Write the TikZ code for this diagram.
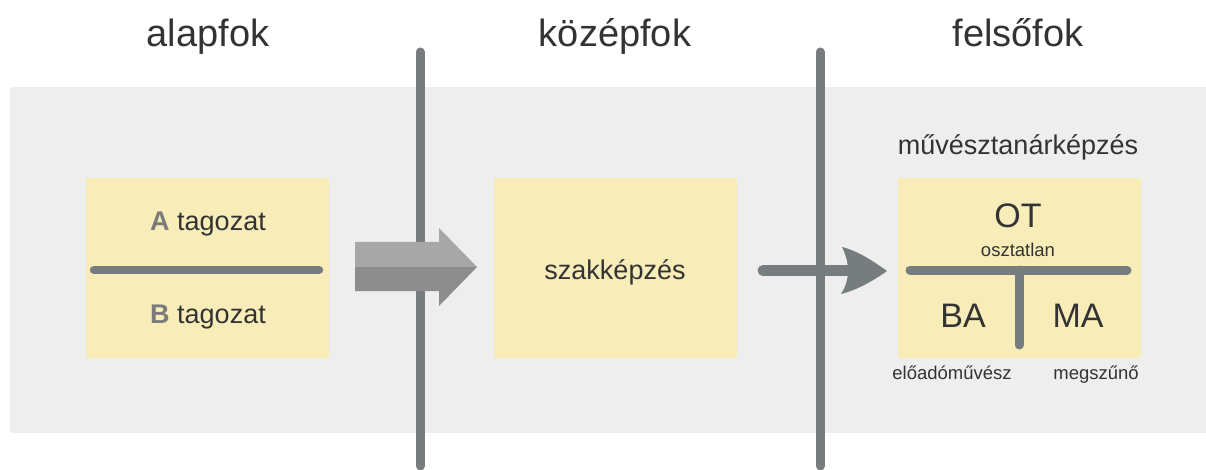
\documentclass[tikz,border=0pt]{standalone}
\usepackage{fontspec}
\setmainfont{Liberation Sans}
\definecolor{bgpanel}{HTML}{EEEEEE}
\definecolor{boxfill}{HTML}{F8EDB9}
\definecolor{bar}{HTML}{777C7E}
\definecolor{txt}{HTML}{333333}
\definecolor{lgray}{HTML}{A7A7A7}
\definecolor{dgray}{HTML}{8D8D8D}
\definecolor{letter}{HTML}{7B7B7B}
\begin{document}
\begin{tikzpicture}[x=1pt,y=-1pt,
  panel/.style={fill=boxfill, minimum width=243, minimum height=180, inner sep=0, anchor=north west},
  divider/.style={draw=bar, line width=8.5, line cap=round},
  phase/.style={font=\fontsize{38}{40}\selectfont, text=txt, anchor=base, inner sep=0},
  label/.style={font=\fontsize{27}{30}\selectfont, text=txt, anchor=base, inner sep=0},
  big/.style={font=\fontsize{34}{36}\selectfont, text=txt, anchor=base, inner sep=0},
  small/.style={font=\fontsize{18.5}{20}\selectfont, text=txt, anchor=base, inner sep=0}]
\useasboundingbox (0,0) rectangle (1206,470);
\fill[white] (0,0) rectangle (1206,470);
\fill[bgpanel] (10,87) rectangle (1206,433);
% phase separators
\draw[divider, line width=9] (420,466) -- (420,52);
\draw[divider, line width=9] (820,466) -- (820,52);
% headings
\node[phase] (h1) at (208,47) {alapfok};
\node[phase] (h2) at (615,47) {középfok};
\node[phase] (h3) at (1018,47) {felsőfok};
% boxes
\node[panel] (left) at (86,178) {};
\node[panel] (mid) at (494,178) {};
\node[panel] (right) at (898,178) {};
% left box content
\coordinate (l1) at (94,270);
\coordinate (l2) at (319,270);
\draw[divider] (l1) -- (l2);
\node[label] (ta) at (208,231) {\textbf{\color{letter}A} tagozat};
\node[label] (tb) at (208,323) {\textbf{\color{letter}B} tagozat};
% middle
\node[label] (szak) at (615,279) {szakképzés};
% big two-tone arrow
\fill[lgray] (355,242) -- (439,242) -- (439,228) -- (477,267) -- (355,267) -- cycle;
\fill[dgray] (355,267) -- (477,267) -- (439,306) -- (439,291) -- (355,291) -- cycle;
% right arrow
\coordinate (a1) at (763,270.5);
\coordinate (a2) at (850,270.5);
\draw[draw=bar, line width=11, line cap=round] (a1) -- (a2);
\fill[bar] (887,271) .. controls (873,261) and (858,251) .. (842,247)
  .. controls (846,255) and (848,263) .. (848,271)
  .. controls (848,279) and (846,286) .. (841,294)
  .. controls (857,290) and (873,281) .. (887,271) -- cycle;
% right box content
\node[label] (mt) at (1018,155) {művésztanárképzés};
\node[big] (ot) at (1018,228) {OT};
\node[small] (osz) at (1018,256) {osztatlan};
\coordinate (r1) at (910,270);
\coordinate (r2) at (1127,270);
\coordinate (r3) at (1019,270);
\coordinate (r4) at (1019,345);
\draw[divider, line width=9] (r1) -- (r2);
\draw[divider, line width=9] (r3) -- (r4);
\node[big] (ba) at (963,327) {BA};
\node[big] (ma) at (1078,327) {MA};
\node[small] (elo) at (952,379) {előadóművész};
\node[small] (meg) at (1096,379) {megszűnő};
\end{tikzpicture}
\end{document}
